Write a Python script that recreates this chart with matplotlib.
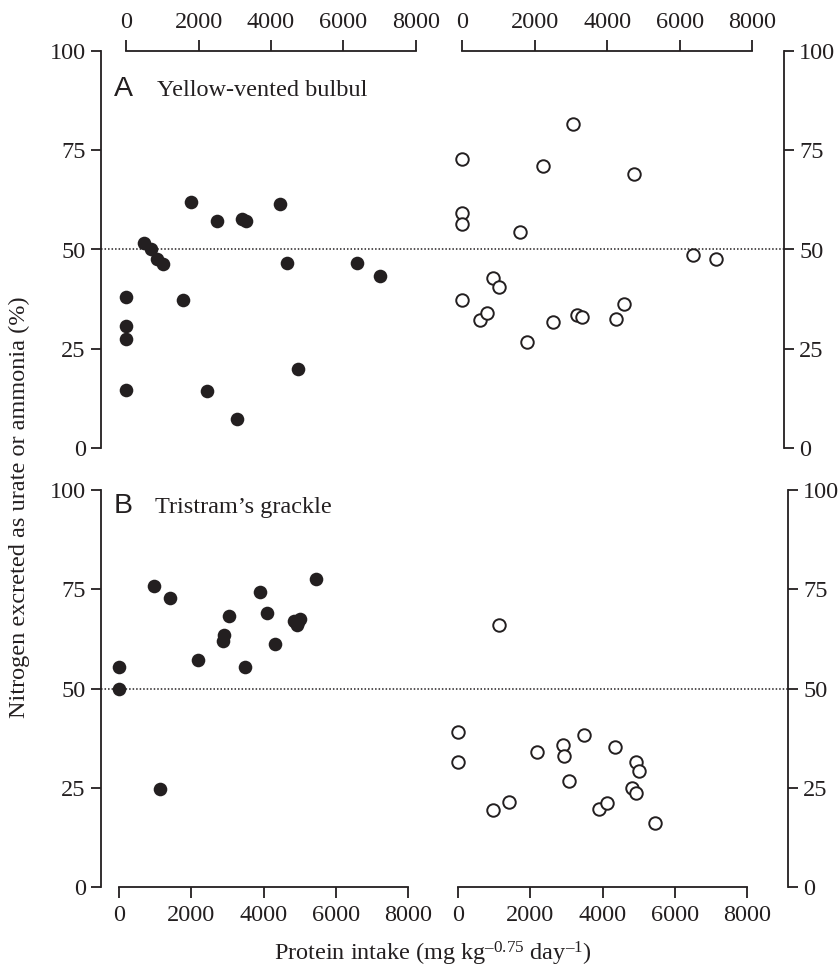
import matplotlib
matplotlib.use("Agg")
import matplotlib.pyplot as plt

plt.rcParams['font.family'] = ['Liberation Serif', 'DejaVu Serif']
plt.rcParams['mathtext.fontset'] = 'custom'
plt.rcParams['mathtext.rm'] = 'Liberation Serif'
plt.rcParams['mathtext.it'] = 'Liberation Serif:italic'

# ---- data ----
y_ticks = [0, 25, 50, 75, 100]
x_ticks = [0, 2000, 4000, 6000, 8000]

# Panel A: Yellow-vented bulbul
a_filled_x = [0, 0, 0, 0, 489, 674, 857, 1005, 1576, 1779, 2240, 2498, 3051,
              3189, 3309, 4248, 4451, 4755, 6368, 7012]
a_filled_y = [38.1, 30.8, 27.5, 14.6, 51.6, 50.0, 47.7, 46.3, 37.2, 62.0, 14.4,
              57.2, 7.2, 57.6, 57.3, 61.5, 46.6, 20.0, 46.5, 43.3]
a_open_x = [0, 0, 0, 0, 497, 671, 855, 1002, 1582, 1775, 2225, 2501, 3053,
            3154, 3292, 4239, 4460, 4745, 6354, 6998]
a_open_y = [72.7, 59.3, 56.5, 37.2, 32.3, 34.0, 42.8, 40.5, 54.5, 26.6, 71.1,
            31.8, 81.5, 33.5, 33.0, 32.5, 36.3, 68.9, 48.5, 47.7]

# Panel B: Tristram's grackle
b_filled_x = [0, 0, 968, 1143, 1410, 2175, 2885, 2912, 3051, 3484, 3890, 4092,
              4323, 4839, 4920, 4940, 5005, 5438]
b_filled_y = [55.5, 50.0, 75.9, 24.7, 72.9, 57.3, 62.0, 63.5, 68.2, 55.5, 74.4,
              68.9, 61.3, 67.1, 66.0, 66.8, 67.5, 77.7]
b_open_x = [0, 0, 971, 1128, 1415, 2183, 2904, 2923, 3061, 3496, 3903, 4125,
            4338, 4828, 4939, 5013, 4939, 5466]
b_open_y = [39.1, 31.6, 19.3, 66.1, 21.5, 33.9, 35.7, 32.9, 26.8, 38.3, 19.7,
            21.2, 35.3, 25.0, 31.6, 29.3, 23.7, 16.1]

W, H = 839, 972
fig = plt.figure(figsize=(W / 100, H / 100), dpi=100)

INK = '#231f20'
LW = 1.3
FS = 17.5
TFS = 17.5


def box(x0, x1, ytop, ybot):
    return [x0 / W, 1 - ybot / H, (x1 - x0) / W, (ybot - ytop) / H]


def main_axes(x0, x1, ytop, ybot):
    ax = fig.add_axes(box(x0, x1, ytop, ybot))
    ax.set_ylim(0, 100)
    ax.set_xlim(0, 1)
    ax.patch.set_alpha(0)
    for s in ['top', 'bottom']:
        ax.spines[s].set_visible(False)
    for s in ['left', 'right']:
        ax.spines[s].set_linewidth(LW)
        ax.spines[s].set_color(INK)
    ax.set_xticks([])
    ax.set_yticks(y_ticks)
    ax.tick_params(axis='y', direction='out', length=7.5, width=LW, colors=INK,
                   labelsize=FS, left=True, right=True, labelleft=True,
                   labelright=True, pad=3.5)
    ax.axhline(50, color=INK, lw=1.1, ls=(0, (1, 1.3)))
    return ax


def sub_axes(x0, x1, ytop, ybot, top):
    ax = fig.add_axes(box(x0, x1, ytop, ybot))
    ax.set_xlim(0, 8000)
    ax.set_ylim(0, 100)
    ax.patch.set_alpha(0)
    for s in ['left', 'right', 'top', 'bottom']:
        ax.spines[s].set_visible(False)
    side = 'top' if top else 'bottom'
    ax.spines[side].set_visible(True)
    ax.spines[side].set_linewidth(LW)
    ax.spines[side].set_color(INK)
    ax.set_yticks([])
    ax.set_xticks(x_ticks)
    ax.tick_params(axis='x', direction='out', length=8, width=LW, colors=INK,
                   labelsize=FS, top=top, bottom=not top, labeltop=top,
                   labelbottom=not top, pad=5)
    return ax


def filled(ax, xs, ys):
    ax.plot(xs, ys, 'o', ms=9.8, color=INK, mec=INK, mew=0, clip_on=False,
            zorder=3)


def hollow(ax, xs, ys):
    ax.plot(xs, ys, 'o', ms=9.0, mfc='white', mec=INK, mew=1.4, clip_on=False,
            zorder=3)


# Panel A
axA = main_axes(101, 784, 51, 448)
axA1 = sub_axes(126.3, 415.7, 51, 448, top=True)
axA2 = sub_axes(462.3, 752.3, 51, 448, top=True)
filled(axA1, a_filled_x, a_filled_y)
hollow(axA2, a_open_x, a_open_y)

# Panel B
axB = main_axes(101, 788, 490, 887)
axB1 = sub_axes(119, 408.3, 490, 887, top=False)
axB2 = sub_axes(458.3, 746.7, 490, 887, top=False)
filled(axB1, b_filled_x, b_filled_y)
hollow(axB2, b_open_x, b_open_y)

# Panel labels
fig.text(114 / W, 1 - 96 / H, 'A', family=['Liberation Sans'], fontsize=20.5,
         va='baseline', ha='left', color=INK)
fig.text(157 / W, 1 - 96 / H, 'Yellow-vented bulbul', fontsize=TFS,
         va='baseline', ha='left', color=INK)
fig.text(114 / W, 1 - 513 / H, 'B', family=['Liberation Sans'], fontsize=20.5,
         va='baseline', ha='left', color=INK)
fig.text(155 / W, 1 - 513 / H, 'Tristram\u2019s grackle', fontsize=TFS,
         va='baseline', ha='left', color=INK)

# Axis labels
fig.text(19 / W, 1 - 507 / H,
         'Nitrogen excreted as urate or ammonia (%)', rotation=90,
         fontsize=TFS, ha='center', va='center', color=INK)
fig.text(433 / W, 1 - 960 / H,
         'Protein intake (mg kg$^{\u20130.75}$ day$^{\u20131}$)',
         fontsize=TFS, ha='center', va='baseline', color=INK)

fig.savefig('out.png', dpi=100)
